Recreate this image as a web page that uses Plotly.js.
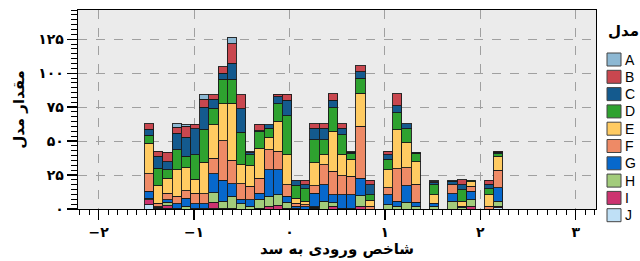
<!DOCTYPE html>
<html><head><meta charset="utf-8">
<script src="https://cdn.plot.ly/plotly-3.0.1.min.js"></script>
<style>html,body{margin:0;padding:0;background:#fff}#chart{width:640px;height:261px}</style>
</head><body><div id="chart"></div><script>
// Histogram bins (left edge of first bin and bin width, in x-axis units)
const binStart = -1.518;
const binWidth = 0.0963;
const seriesNames = ['A','B','C','D','E','F','G','H','I','J'];
const seriesColors = ['#8DB8D3','#C9474F','#145A8E','#2EA22F','#FFCB62','#EE8A66','#0768CC','#A2CC7B','#CC3370','#BFE0F6'];
const A = [0,0,0,2.5,1.2,0,3.2,0,0,4.9,0,0,0,0,0,0,0,0,0,0,0,0,0,0,0,0,0,0,0,0,0,1,0,1,0,0,0,0,0];
const B = [3.9,3.7,6.9,4.2,7.8,3.4,5.9,3.2,4.9,14.2,10.3,0.5,5,0,1.7,4.7,0.5,3.2,3.2,3.2,4.7,3.2,0.6,4.2,3.2,0,2.5,8.6,0,0,0,0.5,0,0,3.4,0,0,2.9,0.8];
const C = [4.4,8.6,6.1,12.3,14.2,19.1,16.2,6.6,4.4,11.8,17.4,1.5,0.5,2.5,5.2,11.3,3.4,3.2,8.6,8.6,5.6,4.9,1.1,4.9,7.4,0,3.2,5.4,3.9,0.5,0,1.5,0,2.5,3.7,0,0,3.4,0.9];
const D = [5.9,13,6.1,14.7,8.6,17.9,24.5,12.3,18.1,17.6,23.8,8.1,12.3,6.6,12.9,28.7,9.3,9.1,16.7,11,17.2,14.7,3.9,11,4.2,0,7.8,12.3,10.3,6.4,0,7.4,0,0,8.6,1.2,0,4.4,2.5];
const E = [22.5,12.7,11,19.6,16.7,10.3,23,24.5,27,42.2,14,15.2,22,9.3,21.8,22,3.7,2.5,17.2,7.4,29.4,15.4,12.7,24.5,4.4,0,13.5,28.9,18.4,16.4,0,6.1,0,0,3.7,3.4,0,8.6,9.8];
const F = [13,2.9,4.9,5.4,5.4,7.8,7.4,11.5,29.4,17.2,11.3,9.8,11,14.7,13.7,8.6,2.5,1.7,5.4,14.7,17.2,14,13.5,38,2,0,4.9,23.8,13,13.5,0,0.7,0,6.6,0.5,3.7,0,2,13];
const G = [4.9,0.5,2,3.2,6.1,3.2,3.2,14.2,15.4,9.3,3.4,4.9,4.4,19.6,18.4,4.4,1.2,1.5,9.8,12.3,6.1,9.8,9.8,13,0,0,7.4,3.7,12.3,3.4,0,1.7,0,5.6,0.5,6.1,0,0,9.8];
const H = [1.2,0.5,2.4,0.7,2,0.7,0,6.9,4.9,8.6,3.9,2,6.6,7.4,8,4.2,0.7,0,0.6,5.6,2.5,0,0.4,7.8,0,0,3.2,2,4.9,1.5,0,2,0,5.6,1,4.9,0,0,3.7];
const I = [3.7,0.5,1.7,0,0,0,0.7,4.2,0.7,0.7,0,0,0.7,2,2.6,0.7,0,0,0.6,0,2,0.7,0.3,2,0,0,0,0,0,0,0,0,0,0,0,2,0,0,1];
const J = [3.2,0,0.7,0,0,0,0,0.7,0,0,0,0,0,0,0,0,0,0,0.6,0,0,0,0,0,0,0,0,0,0,0,0,0,0,0,0,0,0,0,1];
const xTickVals = [-2,-1,0,1,2,3];
const xTickText = ['\u2212۲','\u2212۱','۰','۱','۲','۳'];
const yTickVals = [0,25,50,75,100,125];
const yTickText = ['۰','۲۵','۵۰','۷۵','۱۰۰','۱۲۵'];
const xTitle = 'شاخص ورودی به سد';
const yTitle = 'مقدار مدل';
const legendTitle = 'مدل';

const W = 640, Hpx = 261;
const M = {l: 78, r: 44, t: 10, b: 52};
const plotW = W - M.l - M.r, plotH = Hpx - M.t - M.b;
const px2paperX = p => (p - M.l) / plotW;
const px2paperY = p => (Hpx - M.b - p) / plotH;

const seriesValues = [A,B,C,D,E,F,G,H,I,J];
const centers = A.map((_, i) => binStart + binWidth * (i + 0.5));
const traces = [];
for (let s = seriesNames.length - 1; s >= 0; s--) {
  traces.push({
    type: 'bar',
    name: seriesNames[s],
    x: centers,
    y: seriesValues[s].map(v => v === 0 ? null : v),
    width: binWidth,
    showlegend: false,
    marker: {color: seriesColors[s], line: {color: 'rgba(25,25,25,0.9)', width: 1}},
    hoverinfo: 'x+y+name'
  });
}
const fontFam = 'DejaVu Sans, Liberation Sans, sans-serif';

// legend (drawn as shapes + text annotations)
const legX = 607, legY0 = 59.5, legStep = 17.3, boxW = 14, boxH = 13;
const shapes = [], annotations = [];
annotations.push({xref: 'paper', yref: 'paper', x: px2paperX(legX - 1), y: px2paperY(31), xanchor: 'left', yanchor: 'middle',
  text: '<b>' + legendTitle + '</b>', showarrow: false, font: {family: fontFam, size: 15, color: '#000'}});
seriesNames.forEach((n, i) => {
  const cy = legY0 + i * legStep;
  shapes.push({type: 'rect', xref: 'paper', yref: 'paper',
    x0: px2paperX(legX), x1: px2paperX(legX + boxW), y0: px2paperY(cy - boxH / 2), y1: px2paperY(cy + boxH / 2),
    fillcolor: seriesColors[i], line: {color: '#444', width: 1}});
  annotations.push({xref: 'paper', yref: 'paper', x: px2paperX(legX + boxW + 2), y: px2paperY(cy), xanchor: 'left', yanchor: 'middle',
    text: n, showarrow: false, font: {family: 'Liberation Sans, Arial, sans-serif', size: 14, color: '#000'}});
});

const layout = {
  width: W, height: Hpx,
  margin: Object.assign({autoexpand: false}, M),
  paper_bgcolor: '#ffffff',
  plot_bgcolor: '#EBEBEB',
  barmode: 'stack',
  bargap: 0,
  font: {family: fontFam, color: '#000', size: 13},
  showlegend: false,
  shapes: shapes,
  annotations: annotations,
  xaxis: {
    range: [-2.216, 3.213],
    tickvals: xTickVals, ticktext: xTickText,
    ticks: 'outside', ticklen: 10, tickwidth: 1.3, tickcolor: '#000',
    minor: {dtick: 0.1, tick0: 0, ticks: 'outside', ticklen: 5, tickcolor: '#000', tickwidth: 1, showgrid: false},
    showline: true, linecolor: '#000', linewidth: 1.3, mirror: true,
    showgrid: true, gridcolor: '#A0A0A0', griddash: 'dash', gridwidth: 1,
    zeroline: false,
    tickfont: {family: fontFam, size: 14, weight: 'bold'},
    title: {text: xTitle, font: {family: fontFam, size: 15, weight: 'bold'}, standoff: 4}
  },
  yaxis: {
    range: [0, 146.5],
    tickvals: yTickVals, ticktext: yTickText,
    ticks: 'outside', ticklen: 10, tickwidth: 1.3, tickcolor: '#000',
    minor: {dtick: 25/7, tick0: 0, ticks: 'outside', ticklen: 6, tickcolor: '#000', tickwidth: 1, showgrid: false},
    showline: true, linecolor: '#000', linewidth: 1.3, mirror: true,
    showgrid: true, gridcolor: '#A0A0A0', griddash: 'dash', gridwidth: 1,
    zeroline: false,
    tickfont: {family: fontFam, size: 14, weight: 'bold'},
    title: {text: yTitle, font: {family: fontFam, size: 15, weight: 'bold'}, standoff: 10}
  }
};
Plotly.newPlot('chart', traces, layout, {displayModeBar: false, staticPlot: true});
</script></body></html>
